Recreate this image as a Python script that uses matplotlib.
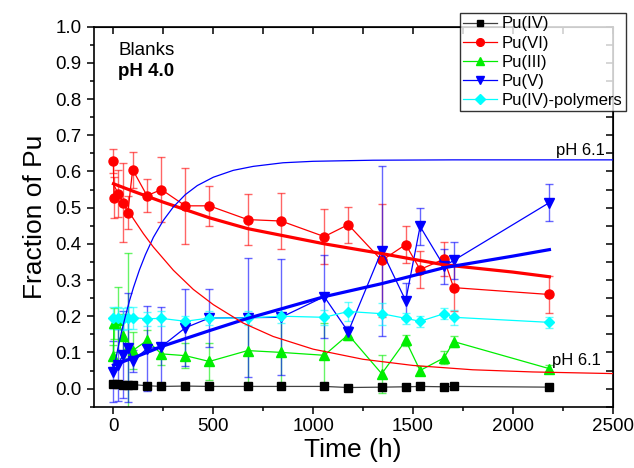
import matplotlib
matplotlib.use('Agg')
import matplotlib.pyplot as plt
from matplotlib.ticker import MultipleLocator

plt.rcParams['font.family'] = ['Liberation Sans', 'DejaVu Sans']

# sampling times (h)
t_main = [0, 24, 48, 72, 96, 168, 240, 360, 480, 672, 840, 1056, 1176,
          1344, 1464, 1536, 1656, 1704, 2184]
t_dup = [0, 2, 24, 48, 72, 96, 168, 240, 360, 480, 672, 840, 1056, 1176,
         1344, 1464, 1536, 1656, 1704, 2184]

pu4 = [0.012, 0.012, 0.011, 0.011, 0.011, 0.008, 0.006, 0.007, 0.006, 0.006,
       0.006, 0.006, 0.003, 0.004, 0.005, 0.006, 0.005, 0.006, 0.004]
pu4_err = [0.004] * 5 + [0.003] * 14

pu6 = [0.63, 0.528, 0.539, 0.514, 0.486, 0.605, 0.533, 0.55, 0.505, 0.505,
       0.467, 0.463, 0.42, 0.453, 0.354, 0.398, 0.329, 0.358, 0.279, 0.26]
pu6_err = [0.033, 0.056, 0.065, 0.11, 0.045, 0.05, 0.045, 0.09, 0.105, 0.055,
           0.07, 0.078, 0.075, 0.05, 0.155, 0.05, 0.05, 0.048, 0.065, 0.05]

pu3 = [0.09, 0.18, 0.19, 0.145, 0.114, 0.105, 0.133, 0.096, 0.091, 0.075,
       0.105, 0.1, 0.092, 0.149, 0.041, 0.133, 0.05, 0.085, 0.13, 0.055]
pu3_err = [0.03, 0.043, 0.09, 0.06, 0.26, 0.05, 0.03, 0.03, 0.035, 0.05,
           0.1, 0.1, 0.09, 0.015, 0.053, 0.015, 0.012, 0.018, 0.015, 0.01]

pu5 = [0.047, 0.066, 0.094, 0.113, 0.077, 0.11, 0.116, 0.168, 0.195, 0.196,
       0.197, 0.254, 0.157, 0.381, 0.243, 0.448, 0.338, 0.354, 0.514]
pu5_err = [0.085, 0.1, 0.12, 0.15, 0.03, 0.117, 0.11, 0.106, 0.08, 0.165,
           0.16, 0.115, 0.015, 0.235, 0.05, 0.05, 0.048, 0.05, 0.05]

pu4p = [0.196, 0.195, 0.193, 0.196, 0.196, 0.193, 0.194, 0.186, 0.195, 0.195,
        0.2, 0.197, 0.213, 0.207, 0.194, 0.186, 0.207, 0.197, 0.183]
pu4p_err = [0.03, 0.03, 0.03, 0.03, 0.03, 0.02, 0.02, 0.015, 0.02, 0.02,
            0.02, 0.02, 0.025, 0.03, 0.015, 0.015, 0.015, 0.02, 0.015]

# fit curves
fit_t = [0, 100, 250, 480, 672, 1056, 1344, 1656, 2000, 2184]
fit_vi = [0.566, 0.545, 0.515, 0.472, 0.442, 0.40, 0.373, 0.342, 0.322, 0.309]
fit_v = [0.065, 0.085, 0.118, 0.16, 0.194, 0.254, 0.29, 0.334, 0.366, 0.384]

ph61_t = [0, 20, 40, 60, 80, 100, 130, 160, 200, 250, 300, 360, 420, 500,
          600, 700, 850, 1000, 1300, 1700, 2500]
ph61_v = [0.05, 0.105, 0.156, 0.201, 0.242, 0.279, 0.328, 0.37, 0.418, 0.465,
          0.502, 0.536, 0.561, 0.584, 0.603, 0.614, 0.624, 0.628, 0.631, 0.632,
          0.632]
ph61r_t = [0, 25, 50, 100, 150, 200, 300, 400, 500, 650, 800, 1000, 1250,
           1500, 1800, 2100, 2500]
ph61_vi = [0.564, 0.538, 0.514, 0.469, 0.428, 0.391, 0.327, 0.274, 0.232,
           0.181, 0.144, 0.109, 0.081, 0.064, 0.052, 0.046, 0.0415]

fig = plt.figure(figsize=(6.34, 4.68), dpi=100)
ax = fig.add_axes([0.1475, 0.131, 0.8186, 0.812])

series = [
    ('Pu(IV)', t_main, pu4, pu4_err, 's', 'black', '#404040', 5.5),
    ('Pu(VI)', t_dup, pu6, pu6_err, 'o', 'red', 'red', 6.5),
    ('Pu(III)', t_dup, pu3, pu3_err, '^', '#00ee00', '#00ee00', 6.5),
    ('Pu(V)', t_main, pu5, pu5_err, 'v', 'blue', 'blue', 6.5),
    ('Pu(IV)-polymers', t_main, pu4p, pu4p_err, 'D', 'cyan', 'cyan', 5.5),
]

handles = []
for label, t, y, e, mk, mc, lc, ms in series:
    ax.errorbar(t, y, yerr=e, fmt='none', ecolor=mc, elinewidth=1.0,
                capsize=3, capthick=1.0, alpha=0.6, zorder=2)
    h, = ax.plot(t, y, '-', color=lc, lw=0.9, marker=mk, ms=ms,
                 mfc=mc, mec=mc, label=label, zorder=3)
    handles.append(h)

ax.plot(fit_t, fit_vi, color='red', lw=2.3, zorder=4)
ax.plot(fit_t, fit_v, color='blue', lw=2.3, zorder=4)
ax.plot(ph61_t, ph61_v, color='blue', lw=0.9, zorder=4)
ax.plot(ph61r_t, ph61_vi, color='red', lw=0.9, zorder=4)

ax.text(2462, 0.659, 'pH 6.1', fontsize=12, ha='right', va='center')
ax.text(2195, 0.079, 'pH 6.1', fontsize=12, ha='left', va='center')
ax.text(25, 0.935, 'Blanks', fontsize=13.5, ha='left', va='center')
ax.text(25, 0.877, 'pH 4.0', fontsize=13.5, fontweight='bold',
        ha='left', va='center')

ax.set_xlim(-100, 2500)
ax.set_ylim(-0.05, 1.0)
ax.xaxis.set_major_locator(MultipleLocator(500))
ax.xaxis.set_minor_locator(MultipleLocator(250))
ax.yaxis.set_major_locator(MultipleLocator(0.1))
ax.yaxis.set_minor_locator(MultipleLocator(0.05))
ax.yaxis.set_major_formatter(plt.FormatStrFormatter('%.1f'))
ax.tick_params(which='both', direction='out', labelsize=13.5, width=1.1)
ax.tick_params(which='major', length=5)
ax.tick_params(which='minor', length=3)
for s in ax.spines.values():
    s.set_linewidth(1.2)

# mirror ticks on top/right, pointing inward
axt = ax.secondary_xaxis('top')
axt.xaxis.set_major_locator(MultipleLocator(250))
axt.tick_params(direction='in', length=5, width=1.1, labeltop=False)
axr = ax.secondary_yaxis('right')
axr.yaxis.set_major_locator(MultipleLocator(0.05))
axr.tick_params(direction='in', length=5, width=1.1, labelright=False)

ax.set_xlabel('Time (h)', fontsize=19, labelpad=2)
ax.set_ylabel('Fraction of Pu', fontsize=19, labelpad=6)

leg = ax.legend(handles=handles, loc='upper right',
                bbox_to_anchor=(0.987, 0.972), bbox_transform=fig.transFigure,
                fontsize=12, frameon=True, fancybox=False, borderaxespad=0,
                handlelength=2.0, labelspacing=0.25, borderpad=0.2,
                handletextpad=0.3, markerscale=0.85)
leg.get_frame().set_edgecolor('black')
leg.get_frame().set_linewidth(1.0)
leg.set_zorder(10)

fig.savefig('out.png', dpi=100)
